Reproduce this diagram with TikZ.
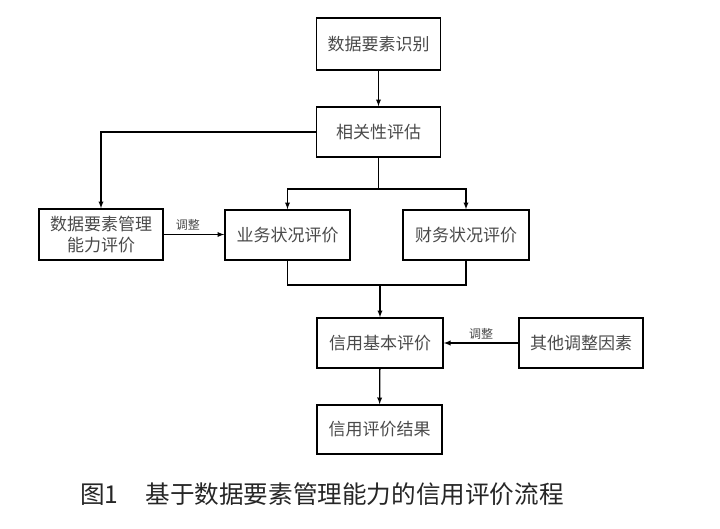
\documentclass[tikz,border=0pt]{standalone}
\usepackage{fontspec}
\newfontfamily\cjk{Noto Sans CJK SC}
\usetikzlibrary{positioning, arrows}
\definecolor{boxtext}{HTML}{4A4A4A}
\tikzset{
>=latex, % filled arrow heads
every box/.style={draw, line width=1.6pt, text=boxtext, font=\cjk\fontsize{17}{21}\selectfont, align=center, inner sep=2pt}, % sets the look of each box
box/.style={every box, minimum width=124pt, minimum height=50pt},
link/.style={line width=1.3pt}, % connectors
note/.style={font=\cjk\fontsize{12}{13}\selectfont, text=boxtext}, % labels on the connectors
}

\begin{document}
\begin{tikzpicture}[x=1pt,y=-1pt]
    \useasboundingbox (0,0) rectangle (720,528);
    \node[box, minimum height=52pt] (ID) at (378.5,44) {数据要素识别};
    \node[box] (REL) at (378.5,132) {相关性评估};
    \node[box, minimum height=51pt] (MGMT) at (101,234.5) {数据要素管理\\能力评价};
    \node[box, minimum width=125pt] (BIZ) at (287.5,235) {业务状况评价};
    \node[box, minimum width=126pt] (FIN) at (466,235) {财务状况评价};
    \node[box, minimum width=126pt] (BASE) at (380,343) {信用基本评价};
    \node[box] (OTHER) at (581,343) {其他调整因素};
    \node[box, minimum width=125pt, minimum height=49pt] (RESULT) at (379.5,429.5) {信用评价结果};
    \coordinate (split) at (378.5,189);
    \coordinate (merge) at (380,285);

    \draw[link,->] (ID) -- (REL);
    \draw[link,->] (REL.west) -| (MGMT.north);
    \draw[link] (REL) -- (split);
    \draw[link,->] (split) -| (BIZ.north);
    \draw[link,->] (split) -| (FIN.north);
    \draw[link,->] (MGMT.east) -- node[note, above, pos=0.4]{调整} (MGMT.east -| BIZ.west);
    \draw[link] (BIZ.south) |- (merge) -| (FIN.south);
    \draw[link,->] (merge) -- (BASE);
    \draw[link,->] (OTHER.west) -- node[note, above, pos=0.5]{调整} (OTHER.west -| BASE.east);
    \draw[link,->] (BASE) -- (RESULT);

    \node[font=\cjk\fontsize{24.6}{27}\selectfont, text=black!85] (CAP) at (322,494) {图1\hspace{1.1em}基于数据要素管理能力的信用评价流程};
\end{tikzpicture}
\end{document}
